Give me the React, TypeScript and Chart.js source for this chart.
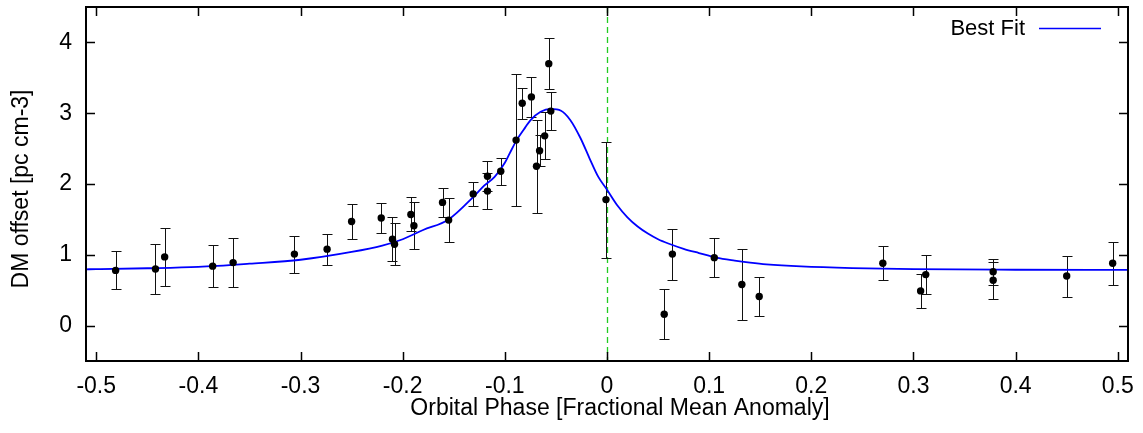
import React, { useEffect, useRef } from 'react';
import { Chart, registerables } from 'chart.js';

Chart.register(...registerables);

// Observed data: orbital phase, DM offset, 1-sigma error
const phase = [
  -0.481, -0.442, -0.433, -0.386, -0.366, -0.306, -0.274, -0.250, -0.221, -0.210,
  -0.208, -0.192, -0.189, -0.161, -0.155, -0.131, -0.117, -0.117, -0.104, -0.089,
  -0.083, -0.074, -0.069, -0.066, -0.061, -0.057, -0.055, -0.001, 0.056, 0.064,
  0.105, 0.132, 0.149, 0.270, 0.307, 0.312, 0.378, 0.378, 0.450, 0.495,
];
const dmOffset = [
  0.78, 0.80, 0.97, 0.84, 0.89, 1.01, 1.08, 1.47, 1.52, 1.22,
  1.15, 1.57, 1.41, 1.74, 1.49, 1.86, 2.11, 1.90, 2.18, 2.62,
  3.14, 3.23, 2.25, 2.47, 2.68, 3.70, 3.03, 1.78, 0.16, 1.01,
  0.96, 0.58, 0.41, 0.88, 0.49, 0.72, 0.76, 0.64, 0.70, 0.88,
];
const dmError = [
  0.27, 0.35, 0.41, 0.30, 0.35, 0.26, 0.22, 0.245, 0.21, 0.31,
  0.30, 0.24, 0.33, 0.20, 0.31, 0.17, 0.21, 0.26, 0.19, 0.93,
  0.22, 0.28, 0.66, 0.22, 0.33, 0.36, 0.27, 0.82, 0.35, 0.36,
  0.28, 0.50, 0.28, 0.24, 0.24, 0.28, 0.18, 0.26, 0.29, 0.30,
];

// Best-fit curve
const fitPhase = [
  -0.51, -0.5, -0.45, -0.4, -0.35, -0.3, -0.25, -0.22, -0.2, -0.18,
  -0.155, -0.13, -0.12, -0.11, -0.1, -0.095, -0.088, -0.08, -0.075, -0.065,
  -0.055, -0.045, -0.036, -0.026, -0.017, -0.0085, 0, 0.01, 0.02, 0.03,
  0.04, 0.05, 0.06, 0.075, 0.09, 0.107, 0.125, 0.14, 0.156, 0.19,
  0.24, 0.3, 0.4, 0.51,
];
const fitDM = [
  0.795, 0.797, 0.81, 0.83, 0.875, 0.93, 1.04, 1.13, 1.22, 1.35,
  1.50, 1.83, 1.98, 2.10, 2.30, 2.44, 2.63, 2.80, 2.90, 3.02,
  3.06, 3.035, 2.905, 2.65, 2.36, 2.10, 1.92, 1.70, 1.53, 1.40,
  1.30, 1.22, 1.16, 1.085, 1.025, 0.96, 0.918, 0.89, 0.866, 0.836,
  0.812, 0.797, 0.789, 0.787,
];

const xTickValues = [-0.5, -0.4, -0.3, -0.2, -0.1, 0, 0.1, 0.2, 0.3, 0.4, 0.5];
const xTickLabels = ['-0.5', '-0.4', '-0.3', '-0.2', '-0.1', '0', '0.1', '0.2', '0.3', '0.4', '0.5'];
const yTickValues = [0, 1, 2, 3, 4];
const yTickLabels = ['0', '1', '2', '3', '4'];

const xTitle = 'Orbital Phase [Fractional Mean Anomaly]';
const yTitle = 'DM offset [pc cm-3]';
const legendLabel = 'Best Fit';

const FONT = '"Liberation Sans", Arial, Helvetica, sans-serif';

const decorPlugin = {
  id: 'decor',
  beforeDatasetsDraw(chart: any) {
    const { ctx, chartArea: a, scales } = chart;
    const x = scales.x;
    const y = scales.y;
    ctx.save();
    // dashed zero-phase line
    const x0 = Math.round(x.getPixelForValue(0)) + 0.5;
    ctx.strokeStyle = '#22cc22';
    ctx.lineWidth = 1.3;
    ctx.setLineDash([6, 4]);
    ctx.beginPath();
    ctx.moveTo(x0, a.top);
    ctx.lineTo(x0, a.bottom);
    ctx.stroke();
    ctx.setLineDash([]);
    // error bars
    ctx.strokeStyle = '#111';
    ctx.lineWidth = 1;
    for (let i = 0; i < phase.length; i++) {
      const px = Math.round(x.getPixelForValue(phase[i])) + 0.5;
      const top = Math.round(y.getPixelForValue(dmOffset[i] + dmError[i])) + 0.5;
      const bot = Math.round(y.getPixelForValue(dmOffset[i] - dmError[i])) + 0.5;
      ctx.beginPath();
      ctx.moveTo(px, top);
      ctx.lineTo(px, bot);
      ctx.moveTo(px - 5, top);
      ctx.lineTo(px + 5, top);
      ctx.moveTo(px - 5, bot);
      ctx.lineTo(px + 5, bot);
      ctx.stroke();
    }
    ctx.restore();
  },
  afterDatasetsDraw(chart: any) {
    const { ctx, chartArea: a, scales } = chart;
    const x = scales.x;
    const y = scales.y;
    ctx.save();
    ctx.strokeStyle = '#000';
    ctx.lineWidth = 1.5;
    // tick marks on all four sides, pointing inward
    const tl = 9;
    ctx.beginPath();
    xTickValues.forEach((v) => {
      const px = Math.round(x.getPixelForValue(v)) + 0.5;
      ctx.moveTo(px, a.bottom);
      ctx.lineTo(px, a.bottom - tl);
      ctx.moveTo(px, a.top);
      ctx.lineTo(px, a.top + tl);
    });
    yTickValues.forEach((v) => {
      const py = Math.round(y.getPixelForValue(v)) + 0.5;
      ctx.moveTo(a.left, py);
      ctx.lineTo(a.left + tl, py);
      ctx.moveTo(a.right, py);
      ctx.lineTo(a.right - tl, py);
    });
    ctx.stroke();
    // border
    ctx.lineWidth = 2;
    ctx.strokeRect(a.left, a.top, a.right - a.left, a.bottom - a.top);

    // legend
    ctx.fillStyle = '#000';
    ctx.font = `22px ${FONT}`;
    ctx.textAlign = 'right';
    ctx.textBaseline = 'middle';
    ctx.fillText(legendLabel, 1025, 29);
    ctx.strokeStyle = '#0000ff';
    ctx.lineWidth = 1.5;
    ctx.beginPath();
    ctx.moveTo(1039, 28.5);
    ctx.lineTo(1101, 28.5);
    ctx.stroke();

    // axis titles
    ctx.fillStyle = '#000';
    ctx.font = `23px ${FONT}`;
    ctx.textAlign = 'center';
    ctx.textBaseline = 'middle';
    ctx.fillText(xTitle, 620, 409);
    ctx.translate(22, 189);
    ctx.rotate(-Math.PI / 2);
    ctx.fillText(yTitle, 0, 0);
    ctx.restore();
  },
};

export default function App() {
  const canvasRef = useRef<HTMLCanvasElement | null>(null);

  useEffect(() => {
    const canvas = canvasRef.current;
    if (!canvas) return;
    const points = phase.map((p, i) => ({ x: p, y: dmOffset[i] }));
    const fit = fitPhase.map((p, i) => ({ x: p, y: fitDM[i] }));
    const chart = new Chart(canvas, {
      type: 'scatter',
      data: {
        datasets: [
          {
            label: 'data',
            data: points,
            pointRadius: 3.7,
            pointBackgroundColor: '#000',
            pointBorderWidth: 0,
            order: 0,
          },
          {
            label: legendLabel,
            data: fit,
            showLine: true,
            pointRadius: 0,
            borderColor: '#0000ff',
            borderWidth: 1.8,
            cubicInterpolationMode: 'monotone',
            order: 1,
          },
        ],
      },
      options: {
        responsive: false,
        animation: false,
        layout: { padding: { left: 0, right: 15, top: 7, bottom: 0 } },
        plugins: {
          legend: { display: false },
          tooltip: { enabled: false },
        },
        scales: {
          x: {
            type: 'linear',
            min: -0.51,
            max: 0.51,
            afterBuildTicks: (s: any) => {
              s.ticks = xTickValues.map((v) => ({ value: v }));
            },
            afterFit: (s: any) => {
              s.height = 72;
              s.paddingLeft = 0;
              s.paddingRight = 0;
            },
            grid: { display: false, drawTicks: false },
            border: { display: false },
            ticks: {
              color: '#000',
              font: { family: FONT, size: 23 },
              padding: 12,
              maxRotation: 0,
              autoSkip: false,
              callback: (v: any) => {
                const i = xTickValues.findIndex((t) => Math.abs(t - Number(v)) < 1e-6);
                return i >= 0 ? xTickLabels[i] : '';
              },
            },
          },
          y: {
            type: 'linear',
            min: -0.5,
            max: 4.5,
            afterBuildTicks: (s: any) => {
              s.ticks = yTickValues.map((v) => ({ value: v }));
            },
            afterFit: (s: any) => {
              s.width = 86;
              s.paddingTop = 0;
              s.paddingBottom = 0;
            },
            grid: { display: false, drawTicks: false },
            border: { display: false },
            ticks: {
              color: '#000',
              font: { family: FONT, size: 23 },
              padding: 14,
              autoSkip: false,
              callback: (v: any) => {
                const i = yTickValues.findIndex((t) => Math.abs(t - Number(v)) < 1e-6);
                return i >= 0 ? yTickLabels[i] : '';
              },
            },
          },
        },
      },
      plugins: [decorPlugin],
    } as any);
    return () => chart.destroy();
  }, []);

  return (
    <div style={{ position: 'fixed', left: 0, top: 0, width: 1143, height: 433, background: '#fff' }}>
      <canvas ref={canvasRef} width={1143} height={433} style={{ display: 'block', width: 1143, height: 433 }} />
    </div>
  );
}
